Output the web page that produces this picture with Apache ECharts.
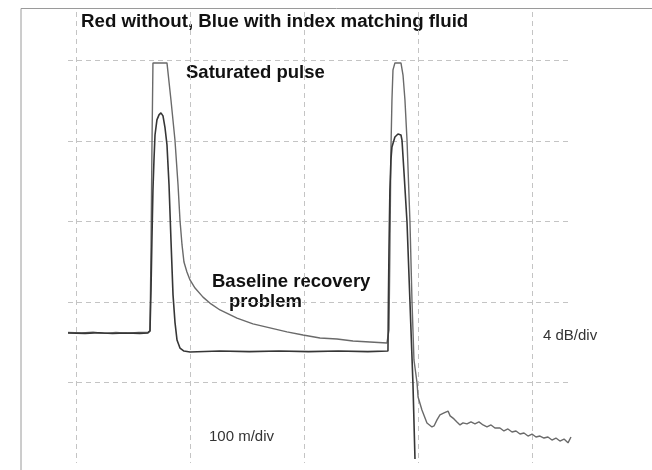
<!DOCTYPE html>
<html>
<head>
<meta charset="utf-8">
<script src="https://cdn.jsdelivr.net/npm/echarts@6/dist/echarts.min.js"></script>
<style>html,body{margin:0;padding:0;background:#fff}#c{width:652px;height:470px}</style>
</head>
<body>
<div id="c"></div>
<script>
// Distance in metres, level in dB (4 dB/div, 100 m/div)
var withoutFluid = [
  [-7.0,2.48],[5,2.46],[15,2.50],[25,2.44],[35,2.48],[45,2.45],[55,2.49],[63.1,2.48],
  [64.9,2.56],[65.8,6.58],[66.6,11.55],[67.5,15.87],[79.8,15.87],[83.3,14.03],[86.8,12.04],
  [89.5,9.81],[91.2,8.07],[93.0,6.83],[94.7,5.98],[97.3,5.49],[100.0,5.09],[104.4,4.69],
  [111.4,4.24],[118.4,3.90],[126.3,3.60],[141.2,3.20],[155.2,2.91],[170.1,2.71],[185.0,2.51],
  [199.1,2.36],[214.0,2.21],[228.9,2.16],[242.9,2.06],[257.8,2.01],[272.7,1.96],
  [274.5,2.61],[275.3,6.58],[276.2,11.55],[277.1,14.03],[278.0,15.52],[279.7,15.87],
  [285.0,15.87],[286.8,15.27],[288.5,14.03],[290.3,12.04],[292.9,7.97],[294.7,4.00],
  [296.4,1.12],[299.1,-0.02],[300.0,-0.72],[303.4,-1.37],[307.8,-2.01],[312.2,-2.21],
  [314.0,-2.16],[316.6,-1.86],[319.2,-1.61],[322.8,-1.51],[326.3,-1.42],[328.1,-1.66],
  [331.5,-1.81],[334.1,-1.96],[336.8,-2.11],[339.4,-2.01],[342.9,-2.06],[346.4,-1.96],
  [349.9,-2.06],[353.4,-1.96],[357.0,-2.11],[360.4,-2.21],[364.0,-2.11],[367.4,-2.26],
  [371.8,-2.26],[375.3,-2.41],[378.8,-2.31],[382.4,-2.46],[385.9,-2.41],[389.4,-2.56],
  [392.9,-2.51],[396.4,-2.66],[399.9,-2.56],[403.4,-2.71],[406.9,-2.66],[410.4,-2.76],
  [413.9,-2.71],[417.4,-2.86],[420.9,-2.76],[424.4,-2.91],[428.0,-2.81],[431.5,-3.00],
  [434.1,-2.71]
];
var withFluid = [
  [-7.0,2.46],[8,2.44],[20,2.47],[32,2.43],[44,2.46],[56,2.44],[63.1,2.46],
  [64.9,2.56],[65.8,4.59],[66.6,7.08],[67.5,9.56],[68.4,11.05],[69.3,12.29],[71.0,13.04],
  [72.8,13.29],[74.5,13.39],[76.3,13.24],[78.1,12.64],[79.8,11.80],[81.6,9.81],[83.3,7.08],
  [85.1,4.35],[86.8,3.00],[88.6,2.11],[91.2,1.71],[94.7,1.56],[100.0,1.51],[126,1.56],
  [152,1.53],[178,1.56],[204,1.53],[230,1.56],[256,1.53],[273.6,1.56],
  [274.0,4.10],[274.5,6.58],[275.3,9.56],[276.2,11.05],[277.1,11.70],[279.7,12.19],
  [282.4,12.34],[285.0,12.29],[285.9,12.04],[287.7,10.40],[290.3,7.97],[292.9,4.00],
  [295.5,-0.02],[297.3,-3.80]
];
var xMin = -7, xMax = 435, xStep = 100, xGridMin = 0;
var yMin = -4, yMax = 18.4, yStep = 4;

var FONT = '"Liberation Sans", Arial, sans-serif';
var chart = echarts.init(document.getElementById('c'), null, {renderer: 'canvas'});
var dash = {show: true, showMinLine: false, showMaxLine: false,
  lineStyle: {color: '#c4c4c4', width: 1, type: [5, 4]}};
var dashX = {show: true, showMinLine: true, showMaxLine: false,
  lineStyle: {color: '#c4c4c4', width: 1, type: [5, 4]}};
var hidden = {axisLine: {show: false}, axisTick: {show: false}, axisLabel: {show: false}};
// second grid starts at x = 0 m so its split lines fall on whole divisions
var plotW = 652 - 68 - 80;
var pxPerM = plotW / (xMax - xMin);
var leftExt = 68 + (xGridMin - xMin) * pxPerM;
chart.setOption({
  animation: false,
  backgroundColor: '#ffffff',
  grid: [
    {left: 68, right: 80, top: 12, bottom: 7},
    {left: leftExt, right: 80, top: 12, bottom: 7}
  ],
  xAxis: [
    Object.assign({type: 'value', gridIndex: 0, min: xMin, max: xMax, splitLine: {show: false}}, hidden),
    Object.assign({type: 'value', gridIndex: 1, min: xGridMin, max: xMax, interval: xStep, splitLine: dashX}, hidden)
  ],
  yAxis: [
    Object.assign({type: 'value', gridIndex: 0, min: yMin, max: yMax, interval: yStep, splitLine: dash}, hidden),
    Object.assign({type: 'value', gridIndex: 1, min: yMin, max: yMax, splitLine: {show: false}}, hidden)
  ],
  series: [
    {name: 'Red without', type: 'line', xAxisIndex: 0, yAxisIndex: 0, data: withoutFluid, showSymbol: false,
      lineStyle: {color: '#6a6a6a', width: 1.4}, z: 2},
    {name: 'Blue with index matching fluid', type: 'line', xAxisIndex: 0, yAxisIndex: 0, data: withFluid, showSymbol: false,
      lineStyle: {color: '#363636', width: 1.6}, z: 3}
  ],
  graphic: [
    {type: 'polyline', shape: {points: [[21, 470], [21, 8.5], [652, 8.5]]},
      style: {stroke: '#9a9a9a', lineWidth: 1, fill: null}, silent: true},
    {type: 'text', x: 81, y: 22, style: {text: 'Red without, Blue with index matching fluid',
      font: 'bold 18.7px ' + FONT, fill: '#111', textVerticalAlign: 'middle', verticalAlign: 'middle'}},
    {type: 'text', x: 186, y: 73, style: {text: 'Saturated pulse',
      font: 'bold 18.5px ' + FONT, fill: '#111', textVerticalAlign: 'middle', verticalAlign: 'middle'}},
    {type: 'text', x: 212, y: 282, style: {text: 'Baseline recovery',
      font: 'bold 18.5px ' + FONT, fill: '#111', textVerticalAlign: 'middle', verticalAlign: 'middle'}},
    {type: 'text', x: 229, y: 302, style: {text: 'problem',
      font: 'bold 18.5px ' + FONT, fill: '#111', textVerticalAlign: 'middle', verticalAlign: 'middle'}},
    {type: 'text', x: 543, y: 336, style: {text: '4 dB/div',
      font: '15px ' + FONT, fill: '#333', textVerticalAlign: 'middle', verticalAlign: 'middle'}},
    {type: 'text', x: 209, y: 437, style: {text: '100 m/div',
      font: '15px ' + FONT, fill: '#333', textVerticalAlign: 'middle', verticalAlign: 'middle'}}
  ]
});
</script>
</body>
</html>
